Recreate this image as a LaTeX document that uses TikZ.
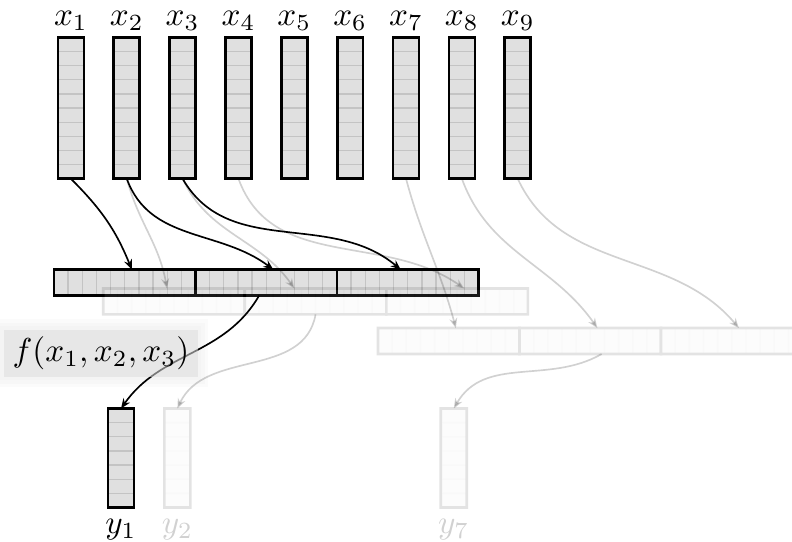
\documentclass[tikz,border=0pt]{standalone}
\usepackage{tikz}
\usetikzlibrary{arrows.meta, positioning, calc, backgrounds}
\definecolor{CellFill}{RGB}{224,224,224}
\definecolor{CellLine}{RGB}{196,196,196}
\definecolor{LabelFill}{RGB}{220,220,220}

% a column vector: name, x, y, number of cells
\newcommand{\colvec}[4]{%
  \node[vecfill,minimum width=0.275cm,minimum height=#4*0.15cm] (#1) at (#2,#3) {};
  \foreach \k in {1,...,#4}
    \draw[cellline] ([yshift=\k*0.15cm]#1.south west) -- ([yshift=\k*0.15cm]#1.south east);
  \draw[vecedge] (#1.south west) rectangle (#1.north east);
}
% a row block of ten cells: name, x, y
\newcommand{\rowvec}[3]{%
  \node[vecfill,minimum width=1.5cm,minimum height=0.275cm] (#1) at (#2,#3) {};
  \foreach \k in {1,...,10}
    \draw[cellline] ([xshift=\k*0.15cm]#1.south west) -- ([xshift=\k*0.15cm]#1.north west);
  \draw[vecedge] (#1.south west) rectangle (#1.north east);
}

\begin{document}
\begin{tikzpicture}[
        vecfill/.style={fill=CellFill,inner sep=0pt,outer sep=0pt},
        cellline/.style={draw=CellLine,line width=0.4pt},
        vecedge/.style={draw=black,line width=0.8pt},
        fadedvec/.style={transparency group,opacity=0.11},
        faded/.style={opacity=0.18},
        feed/.style={-{Stealth[length=3pt,width=2.4pt]},line width=0.5pt}
      ]
        \clip (0,0) rectangle (8.395,5.745);
        % inputs
        \foreach \i in {1,...,9} {
          \colvec{x\i}{0.16+0.592*\i}{4.60}{10}
          \node[above=-1.5pt of x\i] (lx\i) {$x_{\i}$};
        }
        % first window
        \rowvec{r1a}{1.322}{2.75}
        \rowvec{r1b}{2.822}{2.75}
        \rowvec{r1c}{4.322}{2.75}
        % later windows
        \begin{scope}[fadedvec]
          \rowvec{r2a}{1.845}{2.55}
          \rowvec{r2b}{3.345}{2.55}
          \rowvec{r2c}{4.845}{2.55}
          \rowvec{r3a}{4.757}{2.13}
          \rowvec{r3b}{6.257}{2.13}
          \rowvec{r3c}{7.757}{2.13}
        \end{scope}
        % outputs
        \colvec{y1}{1.283}{0.89}{7}
        \node[below=0pt of y1] (ly1) {$y_1$};
        \begin{scope}[fadedvec]
          \colvec{y2}{1.88}{0.89}{7}
          \colvec{y7}{4.81}{0.89}{7}
        \end{scope}
        \node[faded,below=0pt of y2] (ly2) {$y_2$};
        \node[faded,below=0pt of y7] (ly7) {$y_7$};
        % faded connectors
        \begin{scope}[faded]
          \draw[feed] (x2.south) to[out=-75,in=100] ([xshift=4.5*0.15cm]r2a.north west);
          \draw[feed] (x3.south) to[out=-65,in=125] ([xshift=3.5*0.15cm]r2b.north west);
          \draw[feed] (x4.south) to[out=-70,in=145] ([xshift=5.5*0.15cm]r2c.north west);
          \draw[feed] (x7.south) to[out=-75,in=105] ([xshift=5.5*0.15cm]r3a.north west);
          \draw[feed] (x8.south) to[out=-70,in=125] ([xshift=5.5*0.15cm]r3b.north west);
          \draw[feed] (x9.south) to[out=-65,in=130] ([xshift=5.5*0.15cm]r3c.north west);
          \draw[feed] (r2b.south) to[out=-100,in=65] (y2.north);
          \draw[feed] ([xshift=5.8*0.15cm]r3b.south west) to[out=-150,in=60] (y7.north);
        \end{scope}
        % first window connectors
        \draw[feed] (x1.south) to[out=-45,in=112] ([xshift=5.5*0.15cm]r1a.north west);
        \draw[feed] (x2.south) to[out=-70,in=143] ([xshift=5.5*0.15cm]r1b.north west);
        \draw[feed] (x3.south) to[out=-60,in=140] ([xshift=4.5*0.15cm]r1c.north west);
        \draw[feed] ([xshift=4.5*0.15cm]r1b.south west) to[out=-120,in=55] (y1.north);
        % label over the curve
        \node[fill=LabelFill,fill opacity=0.55,text opacity=1,
              inner xsep=2.5pt,inner ysep=2pt] (f) at (1.07,2.0) {$f(x_1,x_2,x_3)$};
        \begin{pgfonlayer}{background}
          \foreach \b in {1,2,3}
            \fill[LabelFill,opacity=0.12] ([shift={(-\b pt,-\b pt)}]f.south west)
              rectangle ([shift={(\b pt,\b pt)}]f.north east);
        \end{pgfonlayer}
      \end{tikzpicture}
\end{document}
